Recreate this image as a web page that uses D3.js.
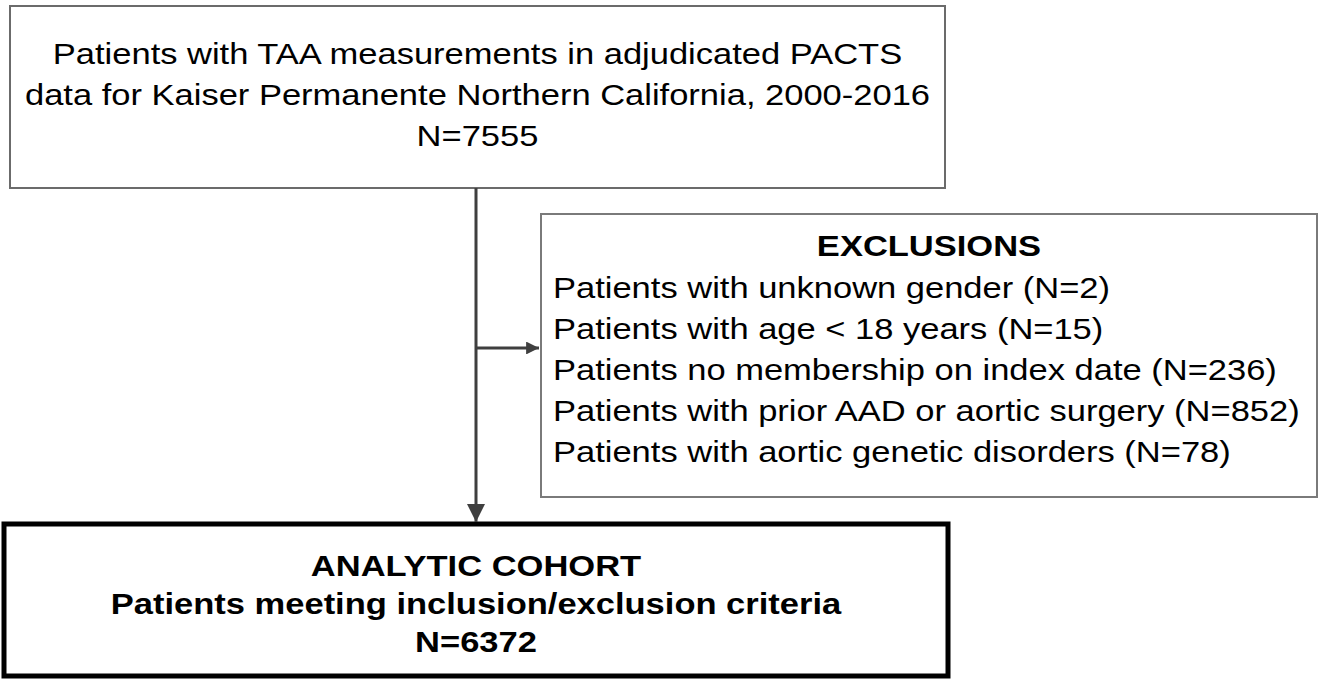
<!DOCTYPE html>
<html lang='en'>
<head>
    <meta charset='UTF-8'>
    <title>Flow chart</title>
    <style>
        body { margin: 0; background: #fff; }
        text { font-family: 'Liberation Sans', Arial, sans-serif; fill: #000; }
    </style>
</head>
<body>
<div id="chart-area"></div>
</body>
<script src='https://d3js.org/d3.v7.min.js'></script>
<script>

    const sourceLines = [
        'Patients with TAA measurements in adjudicated PACTS',
        'data for Kaiser Permanente Northern California, 2000-2016',
        'N=7555'
    ];
    const exclusionTitle = 'EXCLUSIONS';
    const exclusionItems = [
        'Patients with unknown gender (N=2)',
        'Patients with age < 18 years (N=15)',
        'Patients no membership on index date (N=236)',
        'Patients with prior AAD or aortic surgery (N=852)',
        'Patients with aortic genetic disorders (N=78)'
    ];
    const cohortLines = [
        'ANALYTIC COHORT',
        'Patients meeting inclusion/exclusion criteria',
        'N=6372'
    ];

    const width = 1324;
    const height = 679;
    const fontSize = 29;
    const stretch = 1.19;   // the original figure is stretched sideways
    const lineGap = 41;

    const svg = d3.select('#chart-area').append('svg')
        .attr('width', width)
        .attr('height', height);

    const defs = svg.append('defs');
    function addMarker(id, w, h) {
        defs.append('marker')
            .attr('id', id)
            .attr('viewBox', '0 0 10 10')
            .attr('refX', 10)
            .attr('refY', 5)
            .attr('markerWidth', w)
            .attr('markerHeight', h)
            .attr('markerUnits', 'strokeWidth')
            .attr('orient', 'auto')
            .append('path')
            .attr('d', 'M0,0L10,5L0,10Z')
            .attr('fill', '#3f3f3f');
    }
    addMarker('arrow-down', 6, 6);
    addMarker('arrow-right', 6.5, 4.3);

    // boxes
    const topBox = {x: 10, y: 6, w: 935, h: 182};
    const exclBox = {x: 541, y: 214, w: 776, h: 283};
    const cohortBox = {x: 4, y: 524, w: 944, h: 152};

    svg.append('rect')
        .attr('x', topBox.x).attr('y', topBox.y)
        .attr('width', topBox.w).attr('height', topBox.h)
        .attr('fill', 'none').attr('stroke', '#6b6b6b').attr('stroke-width', 2);

    svg.append('rect')
        .attr('x', exclBox.x).attr('y', exclBox.y)
        .attr('width', exclBox.w).attr('height', exclBox.h)
        .attr('fill', 'none').attr('stroke', '#7a7a7a').attr('stroke-width', 2);

    svg.append('rect')
        .attr('x', cohortBox.x).attr('y', cohortBox.y)
        .attr('width', cohortBox.w).attr('height', cohortBox.h)
        .attr('fill', 'none').attr('stroke', '#000').attr('stroke-width', 5);

    // connectors
    const stemX = 476;
    svg.append('line')
        .attr('x1', stemX).attr('y1', topBox.y + topBox.h)
        .attr('x2', stemX).attr('y2', cohortBox.y - 2)
        .attr('stroke', '#3f3f3f').attr('stroke-width', 3)
        .attr('marker-end', 'url(#arrow-down)');

    svg.append('line')
        .attr('x1', stemX).attr('y1', 348)
        .attr('x2', exclBox.x - 2).attr('y2', 348)
        .attr('stroke', '#3f3f3f').attr('stroke-width', 3)
        .attr('marker-end', 'url(#arrow-right)');

    // texts (placed with a transform so they can be stretched)
    const place = (x, y) => `translate(${x},${y}) scale(${stretch},1)`;

    svg.append('g')
        .selectAll('text')
        .data(sourceLines)
        .enter().append('text')
        .attr('transform', (d, i) => place(topBox.x + topBox.w / 2, 64 + i * lineGap))
        .attr('text-anchor', 'middle')
        .style('font-size', fontSize + 'px')
        .text(d => d);

    svg.append('text')
        .attr('transform', place(929, 256))
        .attr('text-anchor', 'middle')
        .style('font-size', fontSize + 'px')
        .style('font-weight', 'bold')
        .text(exclusionTitle);

    svg.append('g')
        .selectAll('text')
        .data(exclusionItems)
        .enter().append('text')
        .attr('transform', (d, i) => place(553, 298 + i * lineGap))
        .style('font-size', fontSize + 'px')
        .text(d => d);

    svg.append('g')
        .selectAll('text')
        .data(cohortLines)
        .enter().append('text')
        .attr('transform', (d, i) => place(cohortBox.x + cohortBox.w / 2, 576 + i * 38))
        .attr('text-anchor', 'middle')
        .style('font-size', fontSize + 'px')
        .style('font-weight', 'bold')
        .text(d => d);
</script>
</html>
